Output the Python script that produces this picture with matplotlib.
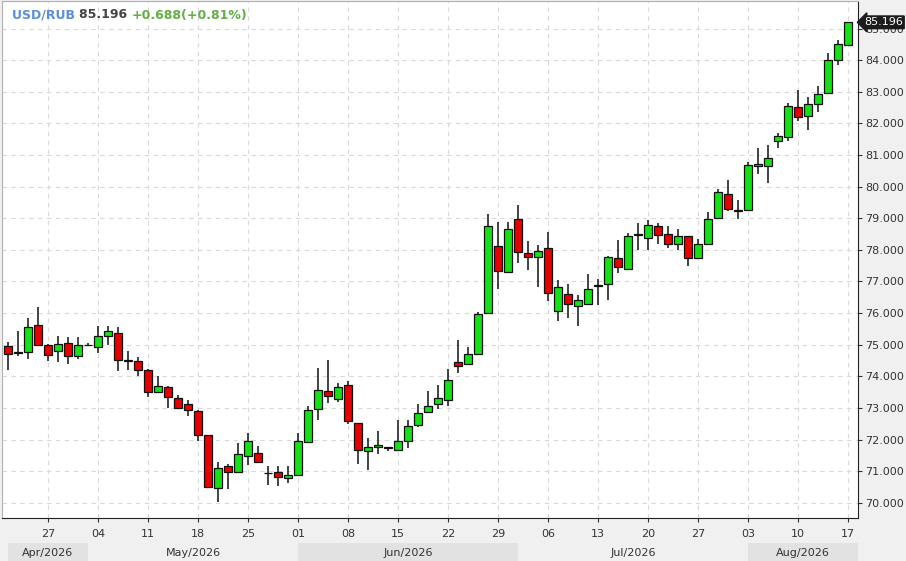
import numpy as np
import pandas as pd
import matplotlib
matplotlib.use("Agg")
import matplotlib.pyplot as plt

# daily OHLC, USD/RUB
dates = pd.bdate_range("2026-04-21", "2026-08-17")
opens = [74.97, 74.74, 74.76, 75.63, 75.00, 74.79, 75.04, 74.65, 74.98, 74.92,
         75.29, 75.37, 74.50, 74.49, 74.21, 73.49, 73.65, 73.33, 73.13, 72.91,
         72.15, 70.48, 71.18, 70.96, 71.48, 71.59, 70.93, 70.96, 70.77, 70.89,
         71.93, 72.98, 73.55, 73.29, 73.74, 72.53, 71.63, 71.76, 71.76, 71.66,
         71.97, 72.47, 72.86, 73.14, 73.26, 74.45, 74.40, 74.72, 75.99, 78.13,
         77.31, 78.97, 77.89, 77.76, 78.05, 76.07, 76.59, 76.23, 76.30, 76.86,
         76.91, 77.73, 77.41, 78.48, 78.39, 78.75, 78.51, 78.20, 78.43, 77.73,
         78.17, 79.01, 79.78, 79.25, 79.26, 80.66, 80.64, 81.43, 81.56, 82.53,
         82.24, 82.61, 82.95, 84.00, 84.48]
highs = [75.08, 75.42, 75.84, 76.18, 75.02, 75.29, 75.24, 75.24, 75.05, 75.60,
         75.60, 75.56, 74.81, 74.61, 74.24, 74.02, 73.68, 73.42, 73.26, 72.93,
         72.15, 71.28, 71.22, 71.88, 72.20, 71.80, 71.18, 71.15, 71.16, 72.21,
         73.05, 74.26, 74.51, 73.79, 73.84, 72.53, 72.05, 72.26, 71.78, 72.63,
         72.63, 73.14, 73.53, 73.72, 74.23, 75.14, 74.92, 76.04, 79.14, 78.87,
         78.87, 79.42, 78.28, 78.15, 78.55, 77.04, 76.91, 76.57, 77.23, 77.07,
         77.82, 78.31, 78.52, 78.85, 78.93, 78.84, 78.75, 78.65, 78.43, 78.33,
         79.19, 79.92, 80.20, 79.57, 80.78, 81.22, 81.33, 81.68, 82.66, 83.05,
         82.82, 83.17, 84.24, 84.63, 85.196]
lows = [74.19, 74.63, 74.56, 74.95, 74.50, 74.44, 74.40, 74.56, 74.95, 74.74,
        74.98, 74.16, 74.19, 74.00, 73.36, 73.49, 73.01, 72.97, 72.73, 71.94,
        70.46, 70.04, 70.44, 70.96, 71.20, 71.27, 70.57, 70.54, 70.64, 70.89,
        71.93, 72.61, 73.16, 73.19, 72.49, 71.24, 71.03, 71.53, 71.63, 71.63,
        71.72, 72.39, 72.86, 72.97, 73.05, 74.11, 74.40, 74.72, 75.99, 76.76,
        77.31, 77.57, 77.36, 76.81, 76.38, 75.74, 75.86, 75.59, 76.30, 76.25,
        76.41, 77.26, 77.41, 78.00, 78.01, 78.20, 78.07, 77.99, 77.49, 77.73,
        78.17, 79.01, 79.24, 78.98, 79.26, 80.40, 80.12, 81.21, 81.43, 82.06,
        81.79, 82.35, 82.95, 83.84, 84.48]
closes = [74.71, 74.76, 75.56, 75.00, 74.68, 75.03, 74.63, 75.00, 75.00, 75.29,
          75.44, 74.51, 74.49, 74.21, 73.49, 73.68, 73.36, 72.99, 72.94, 72.15,
          70.51, 71.11, 70.96, 71.55, 71.94, 71.30, 70.94, 70.81, 70.89, 71.97,
          72.95, 73.58, 73.39, 73.66, 72.58, 71.68, 71.76, 71.84, 71.72, 71.97,
          72.44, 72.84, 73.07, 73.32, 73.89, 74.34, 74.72, 75.96, 78.77, 77.34,
          78.65, 77.94, 77.78, 77.97, 76.62, 76.83, 76.30, 76.43, 76.75, 76.87,
          77.78, 77.47, 78.45, 78.49, 78.79, 78.48, 78.20, 78.43, 77.73, 78.17,
          78.98, 79.84, 79.29, 79.24, 80.67, 80.72, 80.89, 81.59, 82.54, 82.19,
          82.61, 82.93, 84.00, 84.51, 85.196]

symbol = "USD/RUB"
last_price = "85.196"
change_txt = "+0.688(+0.81%)"
y_ticks = np.arange(70, 86)

o = np.array(opens)
h = np.array(highs)
l = np.array(lows)
c = np.array(closes)
x = np.arange(len(dates))

W, H = 906, 561
fig = plt.figure(figsize=(W / 100, H / 100), dpi=100, facecolor="#f0f0f0")
ax = fig.add_axes([2 / W, 43 / H, 856 / W, 517 / H], facecolor="white")

up = c >= o
body_bot = np.minimum(o, c)
body_h = np.maximum(np.abs(c - o), 0.015)
colors = np.where(up, "#16e016", "#e60000")

ax.vlines(x, l, h, color="#111111", lw=1.1, zorder=2)
ax.bar(x, body_h, bottom=body_bot, width=0.72, color=colors,
       edgecolor="#111111", linewidth=0.9, zorder=3)

ax.set_xlim(-0.6, 85.0)
ax.set_ylim(69.52, 85.87)

# weekly ticks on mondays
mondays = [i for i, d in enumerate(dates) if d.weekday() == 0]
ax.set_xticks(mondays)
ax.set_xticklabels([dates[i].strftime("%d") for i in mondays])
ax.set_yticks(y_ticks)
ax.set_yticklabels(["%.3f" % v for v in y_ticks])
ax.yaxis.tick_right()
ax.tick_params(axis="both", labelsize=8, colors="#333333", length=3, width=0.8)
ax.tick_params(axis="x", pad=5)
ax.tick_params(axis="y", pad=2)
for lab in ax.get_xticklabels() + ax.get_yticklabels():
    lab.set_color("#333333")

ax.grid(True, color="#d9d9d9", linestyle=(0, (4, 4)), lw=0.8)
ax.set_axisbelow(True)
ax.spines["left"].set_color("#b0b0b0")
ax.spines["top"].set_color("#b0b0b0")
ax.spines["right"].set_color("#222222")
ax.spines["bottom"].set_color("#222222")

# header
t1 = ax.text(10 / 856, 1 - 14 / 517, symbol + " ", transform=ax.transAxes,
             fontsize=9, fontweight="bold", color="#5b8ee0", va="center")
fig.canvas.draw()
t2 = ax.annotate(last_price + " ", xy=(1, 0.5), xycoords=t1, va="center",
                 fontsize=9, fontweight="bold", color="#444444")
t3 = ax.annotate(change_txt, xy=(1, 0.5), xycoords=t2, va="center",
                 fontsize=9, fontweight="bold", color="#62b043")

# last price marker
ax.annotate(last_price, xy=(1, c[-1]), xycoords=("axes fraction", "data"),
            xytext=(6, 0), textcoords="offset pixels", va="center", ha="left",
            fontsize=8, color="white", annotation_clip=False, zorder=5,
            bbox=dict(boxstyle="larrow,pad=0.12", fc="#1c1c1c", ec="#1c1c1c"))

# month bands
bx = fig.add_axes([2 / W, 0, 856 / W, 18 / H])
bx.set_xlim(ax.get_xlim())
bx.set_ylim(0, 1)
bx.axis("off")
months = pd.Series(x, index=dates).groupby(dates.to_period("M"))
for k, (per, idx) in enumerate(months):
    a, b = idx.iloc[0], idx.iloc[-1] + 1
    bx.axvspan(a, b, color="#e2e2e2" if k % 2 == 0 else "#f0f0f0", lw=0)
    bx.text((a + b) / 2, 0.45, per.strftime("%b/%Y"), ha="center",
            va="center", fontsize=8, color="#333333")

fig.savefig("out.png", dpi=100, facecolor=fig.get_facecolor())
